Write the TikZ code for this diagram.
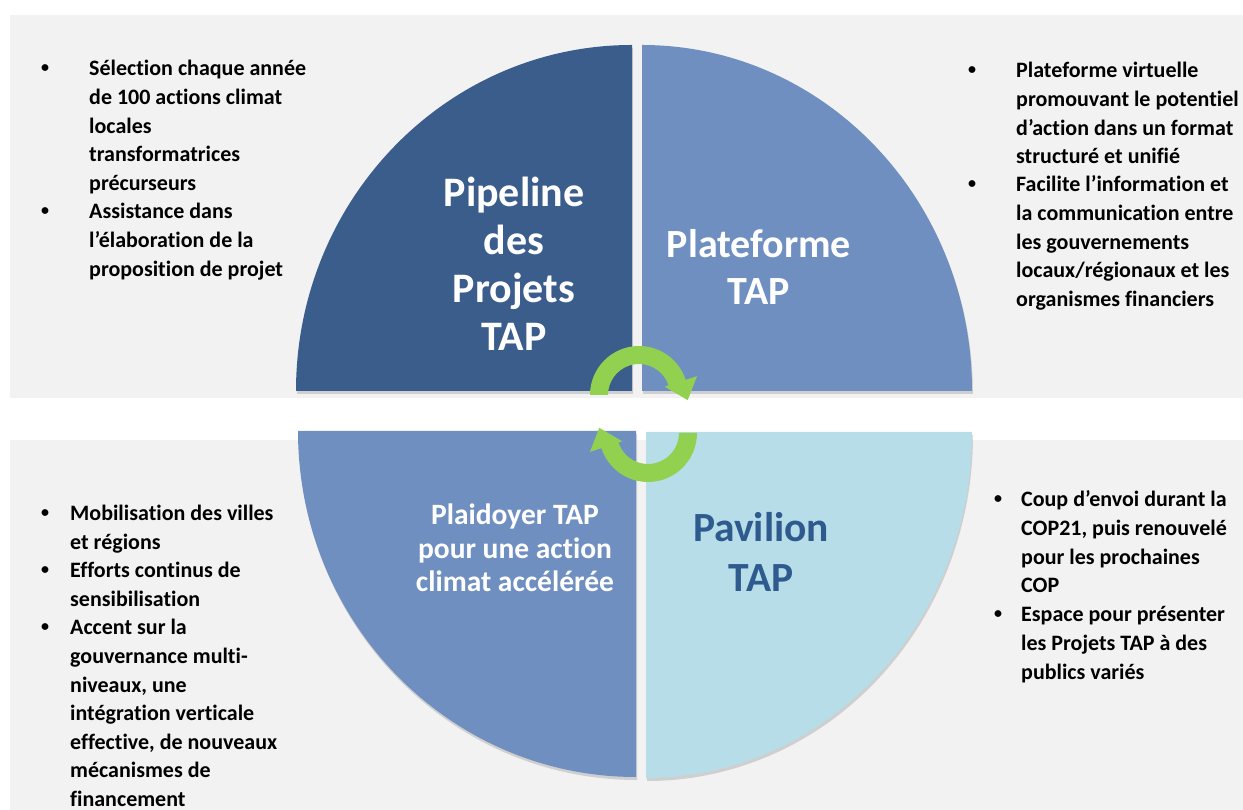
\documentclass[tikz,border=0pt]{standalone}
\usepackage{fontspec}
\setmainfont{Carlito}[Ligatures=NoCommon]
\usetikzlibrary{calc,shadows}

\definecolor{panelgrey}{HTML}{F2F2F2}
\definecolor{tapdark}{HTML}{3A5D8C}
\definecolor{tapmid}{HTML}{6F8FC0}
\definecolor{taplight}{HTML}{B6DDE8}
\definecolor{tapnavy}{HTML}{2E5A8E}
\definecolor{tapgreen}{HTML}{92D050}

% lines stacked on the baseline of the first one
\newcommand{\linesL}[1]{\begin{tabular}[t]{@{}l@{}}#1\end{tabular}}
\newcommand{\linesC}[1]{\begin{tabular}[t]{@{}c@{}}#1\end{tabular}}

\begin{document}
\begin{tikzpicture}[x=1pt,y=1pt,
  quarter/.style={drop shadow={shadow xshift=1pt,shadow yshift=-3pt,opacity=.3}},
  bigtitle/.style={anchor=base,inner sep=0pt,text=white,font=\bfseries\fontsize{42}{48}\selectfont},
  blt/.style={inner sep=0pt,yshift=7.5pt,font=\bfseries\fontsize{16}{16}\selectfont},
  itemtext/.style={anchor=base west,inner sep=0pt,font=\bfseries\fontsize{22}{28.6}\selectfont}]
\useasboundingbox (0,0) rectangle (1243,810);

% background panels
\fill[panelgrey] (10,412) rectangle (1243,795);
\fill[panelgrey] (10,0) rectangle (1243,370);

% the four quarters
\path[fill=tapdark,quarter] (632,419) -- (296,419) arc[start angle=180,end angle=90,x radius=336,y radius=346] -- cycle;
\path[fill=tapmid,quarter] (642,419) -- (642,765) arc[start angle=90,end angle=0,x radius=330,y radius=346] -- cycle;
\path[fill=tapmid,quarter] (636,379) -- (298,379) arc[start angle=180,end angle=270,x radius=338,y radius=346] -- cycle;
\path[fill=taplight,quarter] (646,378) -- (972,378) arc[start angle=0,end angle=-90,x radius=326,y radius=346] -- cycle;

\node[bigtitle] (pipeline) at (514,603) {\linesC{Pipeline\\des\\Projets\\TAP}};
\node[bigtitle,font=\bfseries\fontsize{40}{47}\selectfont] (plateforme) at (759,552) {\linesC{Plateforme\\TAP}};
\node[bigtitle,font=\bfseries\fontsize{29.5}{33.5}\selectfont] (plaidoyer) at (515,285) {\linesC{Plaidoyer TAP\\pour une action\\climat accélérée}};
\node[bigtitle,text=tapnavy,font=\bfseries\fontsize{41.5}{50}\selectfont] (pavilion) at (761,268) {\linesC{Pavilion\\TAP}};

% green cycle arrows
\coordinate (hubtop) at (639,415);
\coordinate (hubbot) at (648,377);
\fill[tapgreen] ($(hubtop)+(180:49)$) arc[start angle=180,end angle=18,radius=49]
  -- ($(hubtop)+(18:61)$) -- ($(hubtop)+(-6:49)$) -- ($(hubtop)+(18:27)$)
  -- ($(hubtop)+(18:31)$) arc[start angle=18,end angle=180,radius=31] -- cycle;
\fill[tapgreen] ($(hubbot)+(0:49)$) arc[start angle=0,end angle=-162,radius=49]
  -- ($(hubbot)+(198:61)$) -- ($(hubbot)+(174:49)$) -- ($(hubbot)+(198:27)$)
  -- ($(hubbot)+(198:31)$) arc[start angle=-162,end angle=0,radius=31] -- cycle;

% top left
\node[blt] (dotpipeA) at (45,734) {\textbullet};
\node[itemtext] (pipeA) at (89,734) {\linesL{Sélection chaque année\\de 100 actions climat\\locales\\transformatrices\\précurseurs}};
\node[blt] (dotpipeB) at (45,591) {\textbullet};
\node[itemtext] (pipeB) at (89,591) {\linesL{Assistance dans\\l’élaboration de la\\proposition de projet}};

% top right
\node[blt] (dotplatA) at (972,732) {\textbullet};
\node[itemtext] (platA) at (1016,732) {\linesL{Plateforme virtuelle\\promouvant le potentiel\\d’action dans un format\\structuré et unifié}};
\node[blt] (dotplatB) at (972,618) {\textbullet};
\node[itemtext] (platB) at (1016,618) {\linesL{Facilite l’information et\\la communication entre\\les gouvernements\\locaux/régionaux et les\\organismes financiers}};

% bottom left
\node[blt] (dotplaiA) at (45,289) {\textbullet};
\node[itemtext] (plaiA) at (70,289) {\linesL{Mobilisation des villes\\et régions}};
\node[blt] (dotplaiB) at (45,232) {\textbullet};
\node[itemtext] (plaiB) at (70,232) {\linesL{Efforts continus de\\sensibilisation}};
\node[blt] (dotplaiC) at (45,175) {\textbullet};
\node[itemtext] (plaiC) at (70,175) {\linesL{Accent sur la\\gouvernance multi-\\niveaux, une\\intégration verticale\\effective, de nouveaux\\mécanismes de\\financement}};

% bottom right
\node[blt] (dotpavA) at (998,303) {\textbullet};
\node[itemtext] (pavA) at (1021,303) {\linesL{Coup d’envoi durant la\\COP21, puis renouvelé\\pour les prochaines\\COP}};
\node[blt] (dotpavB) at (998,188) {\textbullet};
\node[itemtext] (pavB) at (1021,188) {\linesL{Espace pour présenter\\les Projets TAP à des\\publics variés}};
\end{tikzpicture}
\end{document}
